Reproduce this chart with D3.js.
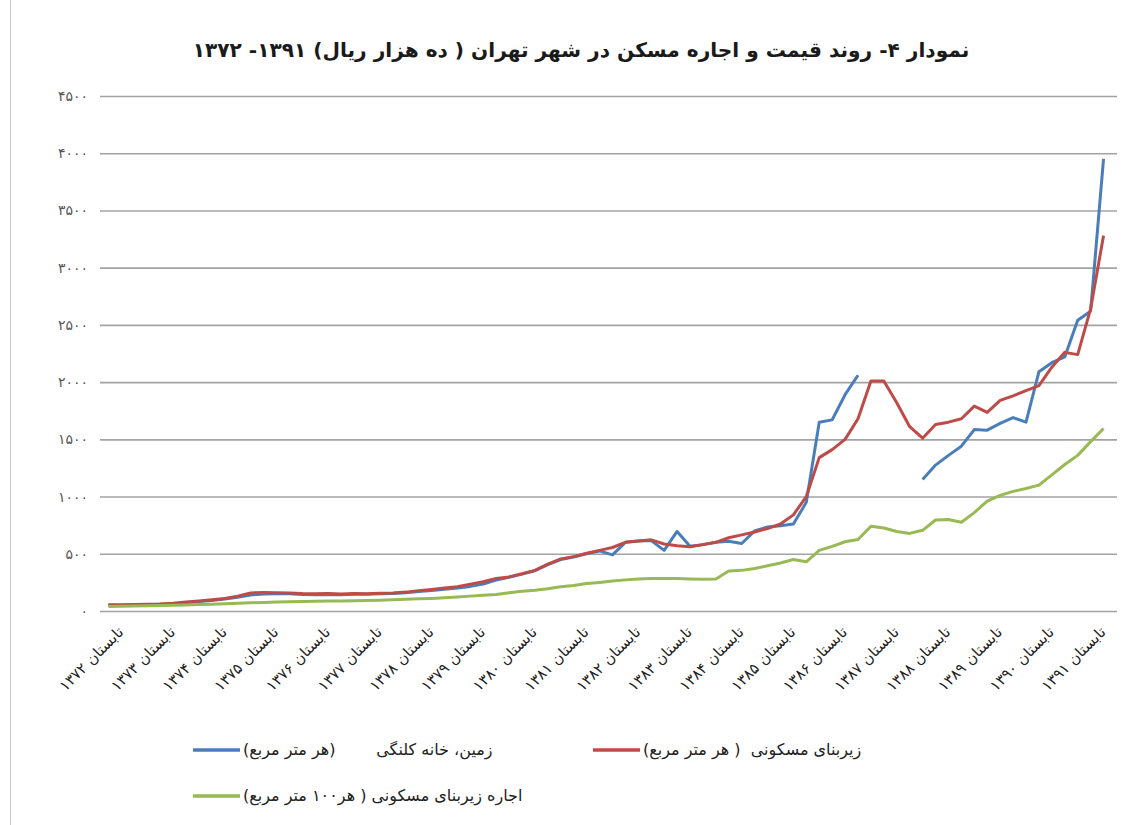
<!doctype html>
<html lang="fa">
<head>
  <meta charset="utf-8">
  <title>نمودار ۴ - روند قیمت و اجاره مسکن در شهر تهران</title>
  <script src="https://d3js.org/d3.v7.min.js"></script>
  <style>
    body { margin: 0; background: #fff; }
    text { font-family: "DejaVu Sans", sans-serif; white-space: pre; }
  </style>
</head>
<body>
  <div id="chart"></div>
<script>
  const width = 1144;
  const height = 825;

  // data (ten thousand rials), quarterly from summer 1372 to autumn 1391
  const seasons = ['تابستان', 'پاییز', 'زمستان', 'بهار'];
  const years = [1372, 1373, 1374, 1375, 1376, 1377, 1378, 1379, 1380, 1381,
                 1382, 1383, 1384, 1385, 1386, 1387, 1388, 1389, 1390, 1391];
  const yTicks = [0, 500, 1000, 1500, 2000, 2500, 3000, 3500, 4000, 4500];

  // land, old house (per square metre)
  const land = [50, 50, 52, 55, 58, 62, 72, 82, 92, 105,
                120, 140, 148, 150, 150, 145, 143, 145, 143, 146,
                147, 150, 153, 160, 170, 180, 190, 200, 215, 235,
                270, 295, 322, 352, 405, 450, 472, 500, 525, 490,
                600, 612, 615, 530, 695, 565, 580, 600, 610, 590,
                700, 735, 745, 760, 950, 1650, 1670, 1890, 2060, null,
                null, null, null, 1150, 1275, 1360, 1440, 1585, 1580, 1640,
                1690, 1650, 2090, 2170, 2220, 2540, 2620, 3950];
  // residential floor area (per square metre)
  const floorArea = [55, 55, 57, 60, 62, 68, 78, 88, 98, 110,
                     130, 158, 162, 160, 158, 152, 150, 152, 148, 152,
                     150, 155, 158, 165, 178, 188, 200, 212, 235, 255,
                     285, 298, 325, 355, 410, 455, 475, 505, 530, 555,
                     600, 612, 622, 585, 570, 562, 580, 600, 640, 665,
                     690, 720, 760, 840, 1000, 1340, 1410, 1500, 1680, 2010,
                     2010, 1820, 1610, 1510, 1630, 1650, 1680, 1790, 1735, 1840,
                     1880, 1925, 1970, 2130, 2260, 2240, 2640, 3280];
  // rent of residential floor area (per 100 square metres)
  const rent = [40, 42, 44, 46, 48, 50, 53, 56, 60, 64,
                68, 72, 75, 78, 80, 82, 85, 87, 88, 90,
                92, 95, 98, 102, 106, 110, 115, 122, 130, 138,
                145, 160, 172, 182, 195, 212, 222, 240, 250, 262,
                272, 280, 283, 285, 283, 280, 278, 280, 350, 355,
                372, 395, 420, 450, 430, 530, 565, 605, 625, 740,
                725, 695, 678, 705, 795, 800, 775, 860, 960, 1010,
                1045, 1070, 1100, 1190, 1280, 1360, 1480, 1595];

  const seriesNames = ['زمین، خانه کلنگی        (هر متر مربع)',
                       'زیربنای مسکونی  ( هر متر مربع)',
                       'اجاره زیربنای مسکونی ( هر۱۰۰ متر مربع)'];
  const colors = ['#4a7ebb', '#be4b48', '#98b954'];

  const faDigits = '۰۱۲۳۴۵۶۷۸۹';
  const fa = (v) => String(v).replace(/\d/g, (c) => faDigits[c]);

  const categories = land.map((d, i) => seasons[i % 4] + ' ' + fa(years[Math.floor((i + 1) / 4)]));

  const x = d3.scalePoint()
    .domain(categories)
    .range([102, 1110])
    .padding(0.5);
  const y = d3.scaleLinear()
    .domain([0, 4500])
    .range([611, 96]);

  const svg = d3.select('#chart').append('svg')
    .attr('width', width)
    .attr('height', height);

  // frame edge
  svg.append('line')
    .attr('x1', 10.5).attr('x2', 10.5)
    .attr('y1', 0).attr('y2', height)
    .attr('stroke', '#c8c8c8');

  // title
  const title = svg.append('text')
    .attr('x', 581)
    .attr('y', 57)
    .attr('direction', 'rtl')
    .attr('text-anchor', 'middle')
    .attr('font-weight', 'bold')
    .attr('font-size', 20)
    .attr('fill', '#1a1a1a')
    .text('نمودار ۴- روند قیمت و اجاره مسکن در شهر تهران ( ده هزار ریال) ۱۳۹۱- ۱۳۷۲');
  const tl = title.node().getComputedTextLength();
  title.attr('font-size', 20 * 777 / tl);

  // y axis + grid
  const yAxis = svg.append('g')
    .attr('transform', 'translate(100,0)')
    .call(d3.axisLeft(y).tickValues(yTicks).tickSize(-1017).tickPadding(12).tickFormat(fa));
  yAxis.select('.domain').remove();
  yAxis.selectAll('line')
    .attr('stroke', '#a3a3a3')
    .attr('stroke-width', 1.6);
  yAxis.selectAll('text')
    .attr('fill', '#555')
    .attr('font-size', 14)
    .attr('font-family', '"DejaVu Sans", sans-serif');

  // x labels, one per summer
  svg.append('g')
    .selectAll('text')
    .data(categories.filter((d, i) => i % 4 === 0))
    .enter()
      .append('text')
        .attr('transform', (d) => 'translate(' + (x(d) + 16) + ',633) rotate(-45)')
        .attr('direction', 'rtl')
        .attr('text-anchor', 'start')
        .attr('font-size', 15)
        .attr('fill', '#222')
        .text((d) => d);

  // lines
  const line = d3.line()
    .defined((d) => d != null)
    .x((d, i) => x(categories[i]))
    .y((d) => y(d))
    .curve(d3.curveLinear);

  [land, floorArea, rent].forEach((s, k) => {
    svg.append('path')
      .datum(s)
      .attr('fill', 'none')
      .attr('stroke', colors[k])
      .attr('stroke-width', 3)
      .attr('stroke-linejoin', 'round')
      .attr('d', line);
  });

  // legend
  const legendPos = [[193, 750], [593, 750], [193, 796]];
  const legend = svg.append('g')
    .selectAll('g')
    .data(seriesNames)
    .enter()
      .append('g')
        .attr('transform', (d, i) => 'translate(' + legendPos[i][0] + ',' + legendPos[i][1] + ')');
  legend.append('line')
    .attr('x1', 0).attr('x2', 47)
    .attr('stroke', (d, i) => colors[i])
    .attr('stroke-width', 3.5);
  legend.append('text')
    .attr('x', 50)
    .attr('y', 5)
    .attr('direction', 'rtl')
    .attr('text-anchor', 'end')
    .attr('font-size', 16)
    .attr('fill', '#222')
    .text((d) => d);
</script>
</body>
</html>
